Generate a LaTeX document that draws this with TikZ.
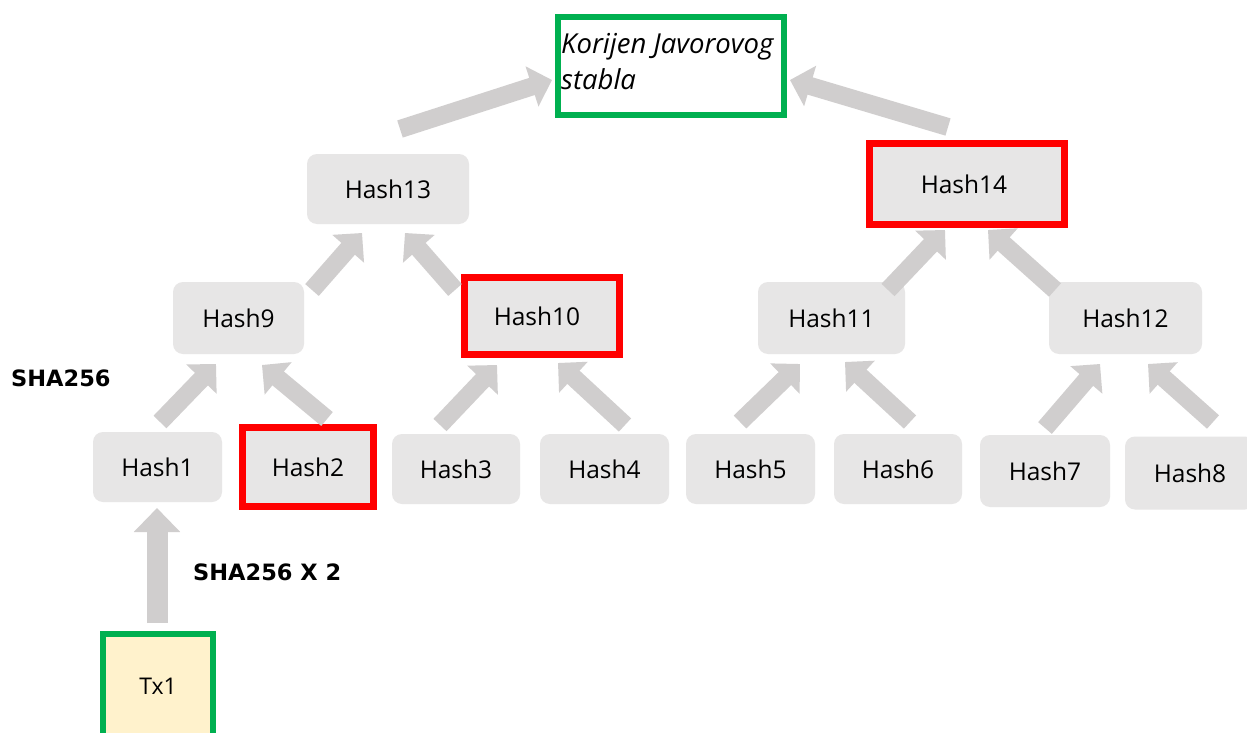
\documentclass[tikz,border=0pt]{standalone}
\usepackage{fontspec}
\setmainfont{Open Sans}
\newfontfamily\lblfont{DejaVu Sans}
\usetikzlibrary{arrows.meta,calc}
\definecolor{boxgray}{HTML}{E7E6E6}
\definecolor{arrgray}{HTML}{D0CECE}
\definecolor{frred}{HTML}{FF0000}
\definecolor{frgreen}{HTML}{00B050}
\definecolor{txfill}{HTML}{FFF2CC}
\begin{document}
\begin{tikzpicture}[x=1pt,y=-1pt,
  hashbox/.style={fill=boxgray, rounded corners=10pt, inner sep=0pt, font=\fontsize{24.5}{28}\selectfont},
  redbox/.style={draw=frred, line width=7pt, fill=boxgray, inner sep=0pt, font=\fontsize{24.5}{28}\selectfont},
  bigarrow/.style={draw=arrgray, line width=18pt, -{Triangle[length=21pt,width=41pt]}},
  vertarrow/.style={draw=arrgray, line width=21pt, -{Triangle[length=24pt,width=45pt]}},
  lbl/.style={font=\lblfont\bfseries\fontsize{22.5}{26}\selectfont, anchor=west, inner sep=0pt}
]
\clip (0,0) rectangle (1247,733);
\fill[white] (0,0) rectangle (1247,733);

% root
\node[draw=frgreen, line width=6pt, fill=white, minimum width=226pt, minimum height=98pt, inner sep=0pt] (root) at (671,66) {};
\node[anchor=north west, align=left, inner sep=0pt, font=\itshape\fontsize{27.5}{36}\selectfont] (roottext) at ($(root.north west)+(6,19)$) {Korijen Javorovog\\stabla};

% level 2
\node[hashbox, minimum width=162pt, minimum height=70pt] (h13) at (388,189) {Hash13};
\node[redbox, minimum width=195pt, minimum height=81pt] (h14) at (967,184) {\hspace*{-6pt}Hash14};

% level 1
\node[hashbox, minimum width=131pt, minimum height=72pt] (h9) at (238.5,318) {Hash9};
\node[redbox, minimum width=155pt, minimum height=77pt] (h10) at (542,316) {\hspace*{-10pt}Hash10};
\node[hashbox, minimum width=147pt, minimum height=72pt] (h11) at (831.5,318) {Hash11};
\node[hashbox, minimum width=153pt, minimum height=72pt] (h12) at (1125.5,318) {Hash12};

% leaves
\node[hashbox, minimum width=129pt, minimum height=70pt] (h1) at (157.5,467) {Hash1};
\node[redbox, minimum width=131pt, minimum height=79pt] (h2) at (308,467) {Hash2};
\node[hashbox, minimum width=128pt, minimum height=70pt] (h3) at (456,469) {Hash3};
\node[hashbox, minimum width=129pt, minimum height=70pt] (h4) at (604.5,469) {Hash4};
\node[hashbox, minimum width=129pt, minimum height=70pt] (h5) at (750.5,469) {Hash5};
\node[hashbox, minimum width=128pt, minimum height=70pt] (h6) at (898,469) {Hash6};
\node[hashbox, minimum width=130pt, minimum height=72pt] (h7) at (1045,471) {Hash7};
\node[hashbox, minimum width=130pt, minimum height=73pt] (h8) at (1190,473) {Hash8};

% transaction
\node[draw=frgreen, line width=6pt, fill=txfill, minimum width=110pt, minimum height=104pt, inner sep=0pt, font=\fontsize{23}{26}\selectfont] (tx1) at (158,686) {Tx1};

% labels
\node[lbl] (sha1) at (11,378) {SHA256};
\node[lbl] (sha2) at (193,572) {SHA256 X 2};

% arrows
\draw[vertarrow] ($(tx1)+(-1,-63)$) -- ($(h1)+(-0.5,41)$);
\draw[bigarrow] ($(h1)+(2.5,-45)$) -- ($(h9)+(-22.5,46)$);
\draw[bigarrow] ($(h2)+(19,-48)$) -- ($(h9)+(23.5,47)$);
\draw[bigarrow] ($(h3)+(-16,-44)$) -- ($(h10)+(-45,49)$);
\draw[bigarrow] ($(h4)+(20.5,-44)$) -- ($(h10)+(16,47)$);
\draw[bigarrow] ($(h5)+(-10.5,-47)$) -- ($(h11)+(-31.5,46)$);
\draw[bigarrow] ($(h6)+(12,-47)$) -- ($(h11)+(13.5,44)$);
\draw[bigarrow] ($(h7)+(0,-43)$) -- ($(h12)+(-25.5,46)$);
\draw[bigarrow] ($(h8)+(23,-51)$) -- ($(h12)+(22.5,46)$);
\draw[bigarrow] ($(h9)+(73.5,-28)$) -- ($(h13)+(-26,44)$);
\draw[bigarrow] ($(h10)+(-87,-26)$) -- ($(h13)+(17,44)$);
\draw[bigarrow] ($(h11)+(56.5,-28)$) -- ($(h14)+(-22,46)$);
\draw[bigarrow] ($(h12)+(-70.5,-28)$) -- ($(h14)+(21,46)$);
\draw[bigarrow] ($(h13)+(12,-60)$) -- ($(root)+(-119,14)$);
\draw[bigarrow] ($(h14)+(-19,-57)$) -- ($(root)+(119,14)$);
\end{tikzpicture}
\end{document}
